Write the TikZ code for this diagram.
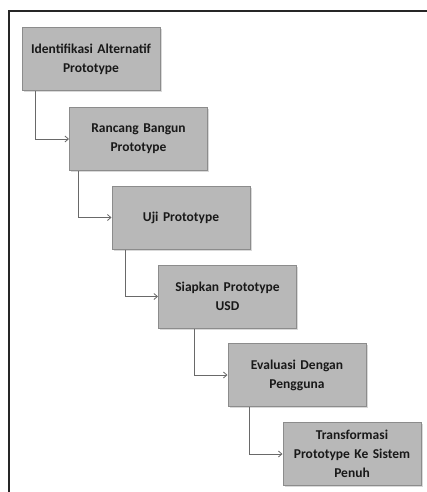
\documentclass[tikz,border=0pt]{standalone}
\usepackage{fontspec}
\setmainfont{Carlito}
\usetikzlibrary{shadows,arrows.meta}
\definecolor{boxfill}{RGB}{184,184,184}
\definecolor{boxline}{RGB}{140,140,140}
\definecolor{conn}{RGB}{105,105,105}
\tikzset{
  stepbox/.style={draw=boxline, line width=1pt, fill=boxfill, minimum width=138pt, minimum height=63pt,
    inner sep=2pt, align=center, text width=134pt, font=\fontsize{13.5}{19}\selectfont\bfseries, text=black!90,
    drop shadow={opacity=0.3, shadow xshift=1.5pt, shadow yshift=-1.5pt}},
  conn/.style={draw=conn, line width=0.8pt, -{Straight Barb[length=3.5pt,width=6pt]}},
  frame/.style={line width=2pt, draw=black!85}
}
\begin{document}
\begin{tikzpicture}[x=1pt,y=-1pt]
\useasboundingbox (0,0) rectangle (427,492);
\draw[frame] (9,492) -- (9,11) -- (427,11);
\node[stepbox] (b1) at (91,59.5) {Identifikasi Alternatif\\Prototype};
\node[stepbox] (b2) at (138.5,139) {Rancang Bangun\\Prototype};
\node[stepbox] (b3) at (181,217.5) {Uji Prototype};
\node[stepbox] (b4) at (227.5,296.5) {Siapkan Prototype\\USD};
\node[stepbox] (b5) at (297,375) {Evaluasi Dengan\\Pengguna};
\node[stepbox] (b6) at (352,454) {Transformasi\\Prototype Ke Sistem\\Penuh};
\coordinate (c1) at (35,0);
\coordinate (c2) at (78,0);
\coordinate (c3) at (125,0);
\coordinate (c4) at (194,0);
\coordinate (c5) at (249,0);
\draw[conn] (c1 |- b1.south) |- (b2.west);
\draw[conn] (c2 |- b2.south) |- (b3.west);
\draw[conn] (c3 |- b3.south) |- (b4.west);
\draw[conn] (c4 |- b4.south) |- (b5.west);
\draw[conn] (c5 |- b5.south) |- (b6.west);
\end{tikzpicture}
\end{document}
